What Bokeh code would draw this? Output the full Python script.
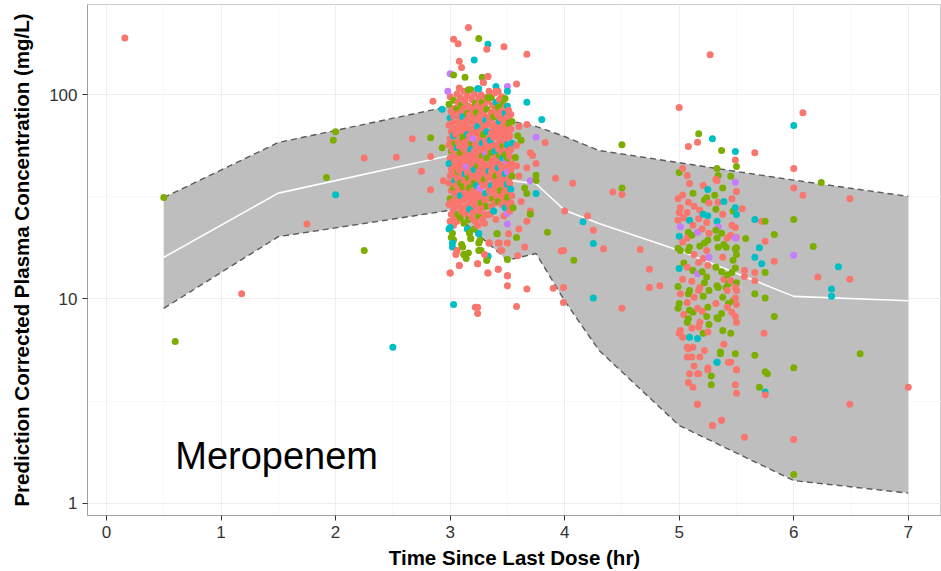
from bokeh.plotting import figure
from bokeh.models import Range1d, FixedTicker, PrintfTickFormatter, Label, ColumnDataSource
from bokeh.embed import file_html
from bokeh.resources import INLINE

# ---------------- data ----------------
x_ticks = [0, 1, 2, 3, 4, 5, 6, 7]
y_ticks = [1, 10, 100]

# VPC band (time, lower / median / upper prediction-corrected concentration)
band_t = [0.5, 1.5, 3.0, 3.5, 3.75, 4.0, 4.3, 5.0, 6.0, 7.0]
band_lo = [9.0, 20.2, 27.2, 15.5, 16.7, 9.8, 5.6, 2.4, 1.29, 1.12]
band_med = [16.0, 33.0, 50.5, 38.2, 36.7, 27.2, 23.4, 17.3, 10.3, 9.8]
band_hi = [31.4, 58.4, 88.0, 75.0, 70.0, 62.5, 53.4, 46.5, 38.2, 31.8]

# observations: (time, conc, group)  r/g/c/p = four subject groups
early_obs = [(0.16, 190, "r"), (0.5, 31.4, "g"), (0.6, 6.2, "g"), (1.18, 10.6, "r"),
             (1.75, 23.3, "r"), (1.92, 39.4, "g"), (2.0, 32.4, "c"), (2.0, 66, "g"),
             (1.98, 60, "g"), (2.25, 49, "r"), (2.53, 49.5, "r"), (2.25, 17.3, "g"),
             (2.5, 5.8, "c"), (2.67, 61, "r"), (2.83, 61.6, "g"), (2.93, 55, "g"),
             (2.83, 49.9, "r"), (2.75, 42.2, "r"), (2.83, 34.3, "r"), (2.94, 38, "r")]

c3_x = [
    [3.00, 2.99, 3.01, 3.00, 2.99, 3.01, 3.00, 2.99, 3.01, 3.00, 2.99, 3.01, 3.00, 2.99, 3.01, 3.00, 2.99, 3.01, 3.00, 2.99, 3.01, 3.02, 3.05, 3.00],
    [3.03, 3.04, 3.03, 3.02, 3.04, 3.03, 3.04, 3.02, 3.03, 3.04, 3.03, 3.02, 3.04, 3.03, 3.04, 3.02, 3.03, 3.04, 3.03, 3.02, 3.03],
    [3.06, 3.07, 3.06, 3.05, 3.07, 3.06, 3.05, 3.07, 3.06, 3.07, 3.05, 3.06, 3.07, 3.06, 3.05, 3.07, 3.06, 3.05, 3.07, 3.06, 3.06, 3.08],
    [3.09, 3.10, 3.09, 3.08, 3.10, 3.09, 3.10, 3.08, 3.09, 3.10, 3.09, 3.08, 3.10, 3.09, 3.10, 3.09, 3.08, 3.10, 3.09, 3.11, 3.12],
    [3.12, 3.13, 3.12, 3.11, 3.13, 3.12, 3.11, 3.13, 3.12, 3.13, 3.11, 3.12, 3.13, 3.12, 3.11, 3.13, 3.12, 3.11, 3.13, 3.12, 3.14],
    [3.15, 3.16, 3.15, 3.14, 3.16, 3.15, 3.14, 3.16, 3.15, 3.16, 3.14, 3.15, 3.16, 3.15, 3.14, 3.16, 3.15, 3.14, 3.16, 3.15, 3.16],
    [3.18, 3.19, 3.18, 3.17, 3.19, 3.18, 3.17, 3.19, 3.18, 3.19, 3.17, 3.18, 3.19, 3.18, 3.17, 3.19, 3.18, 3.17, 3.19, 3.17, 3.18],
    [3.21, 3.22, 3.21, 3.20, 3.22, 3.21, 3.20, 3.22, 3.21, 3.22, 3.20, 3.21, 3.22, 3.21, 3.20, 3.22, 3.21, 3.20, 3.22, 3.21],
    [3.24, 3.25, 3.24, 3.23, 3.25, 3.24, 3.23, 3.25, 3.24, 3.25, 3.23, 3.24, 3.25, 3.24, 3.23, 3.25, 3.24, 3.23, 3.25, 3.24, 3.25, 3.24],
    [3.27, 3.28, 3.27, 3.26, 3.28, 3.27, 3.26, 3.28, 3.27, 3.28, 3.26, 3.27, 3.28, 3.27, 3.26, 3.28, 3.27, 3.26, 3.28, 3.26, 3.27],
    [3.29, 3.31, 3.30, 3.29, 3.31, 3.30, 3.29, 3.31, 3.30, 3.31, 3.29, 3.30, 3.31, 3.30, 3.29, 3.31, 3.30, 3.29, 3.31, 3.30],
    [3.33, 3.34, 3.33, 3.32, 3.34, 3.33, 3.32, 3.34, 3.33, 3.34, 3.32, 3.33, 3.34, 3.33, 3.32, 3.34, 3.33, 3.32, 3.34, 3.34, 3.33, 3.32],
    [3.36, 3.37, 3.36, 3.35, 3.37, 3.36, 3.35, 3.37, 3.36, 3.37, 3.35, 3.36, 3.37, 3.36, 3.35, 3.37, 3.36, 3.35, 3.33],
    [3.39, 3.40, 3.39, 3.38, 3.40, 3.39, 3.38, 3.40, 3.39, 3.40, 3.38, 3.39, 3.40, 3.39, 3.38, 3.40, 3.39, 3.38, 3.40],
    [3.42, 3.43, 3.42, 3.41, 3.43, 3.42, 3.41, 3.43, 3.42, 3.43, 3.41, 3.42, 3.43, 3.42, 3.41, 3.43, 3.42, 3.41, 3.42, 3.42],
    [3.45, 3.46, 3.45, 3.44, 3.46, 3.45, 3.44, 3.46, 3.45, 3.46, 3.44, 3.45, 3.46, 3.45, 3.44, 3.46, 3.45, 3.44],
    [3.48, 3.49, 3.48, 3.47, 3.49, 3.48, 3.47, 3.49, 3.48, 3.49, 3.47, 3.48, 3.49, 3.48, 3.47, 3.49, 3.48, 3.47],
    [3.50, 3.50, 3.50, 3.51, 3.50, 3.51, 3.50, 3.51, 3.50, 3.51, 3.50, 3.51, 3.50, 3.51, 3.50, 3.51, 3.50, 3.51, 3.50, 3.50, 3.51, 3.50, 3.50, 3.50, 3.50],
    [3.53, 3.54, 3.53, 3.52, 3.54, 3.53, 3.52, 3.54, 3.53, 3.54, 3.52, 3.53, 3.54, 3.53, 3.52],
]
c3_y = [
    [98, 90, 83, 77, 71, 66, 61, 57, 53, 49, 46, 43, 40, 37, 34, 31, 29, 26, 24, 22, 20, 18, 16.5, 13.4],
    [94, 86, 79, 73, 68, 63, 58, 54, 50, 47, 44, 41, 38, 35, 33, 30, 27.5, 25, 23, 21, 19.5],
    [101, 92, 85, 80, 74, 69, 64, 59, 55, 51, 48, 45, 42, 39, 36, 33.5, 31, 28.5, 26, 24, 17.3, 14.6],
    [97, 89, 82, 76, 70, 65, 60, 56, 52, 48.5, 45.5, 42.5, 39.5, 37, 34.5, 32, 29.5, 27, 25, 18, 16.5],
    [104, 93, 86, 78, 72, 67, 62, 58, 54, 50, 47, 44, 41, 38, 35.5, 33, 30.5, 28, 26, 23.5, 15.8],
    [99, 88, 81, 75, 69, 64, 59, 55, 51, 47.5, 44.5, 41.5, 39, 36, 33.5, 31, 28.5, 26.5, 24.5, 22, 16.8],
    [106, 95, 87, 80, 74, 68, 63, 58, 54, 50.5, 47, 43.5, 40.5, 37.5, 35, 32.5, 30, 27.5, 25, 21, 19.8],
    [101, 91, 84, 78, 72, 66, 61, 57, 53, 49, 46, 43, 40, 37, 34, 31.5, 29, 26.5, 24, 22],
    [107, 96, 89, 82, 76, 70, 65, 60, 56, 52, 48, 45, 42, 39, 36, 33, 30.5, 28, 25.5, 23, 20.9, 14.9],
    [100, 92, 85, 79, 73, 67, 62, 58, 54, 50, 46.5, 43.5, 40.5, 37.5, 35, 32, 29.5, 27, 24.5, 19.4, 17.3],
    [115, 97, 88, 81, 75, 69, 64, 59, 55, 51, 47.5, 44, 41, 38.5, 36, 33, 30.5, 28, 25.8, 23.5],
    [123, 104, 93, 85, 78, 72, 66, 61, 57, 53, 49, 45.5, 42.5, 39.5, 36.5, 34, 31, 28.5, 26, 18.8, 16.2, 15.5],
    [97, 89, 82, 76, 70, 65, 60, 56, 52, 48, 45, 42, 39, 36, 33.5, 31, 28.5, 26, 13.4],
    [102, 92, 84, 78, 72, 67, 62, 57, 53, 49.5, 46, 43, 40, 37, 34.5, 32, 29.5, 27, 24.5],
    [104, 95, 87, 80, 74, 68, 63, 58.5, 54.5, 50.5, 47, 44, 41, 38, 35.5, 33, 30, 20.9, 18.8, 14],
    [98, 90, 83, 77, 71, 66, 61, 56.5, 52.5, 49, 45.5, 42.5, 39.5, 37, 34, 31.5, 29, 17.3],
    [96, 88, 81, 75, 69, 64, 59.5, 55, 51, 47.5, 44, 41, 38, 35.5, 33, 30.5, 28, 25.5],
    [110, 104, 88, 84, 78, 72, 67, 62, 57, 53, 49, 45.5, 42, 39, 36.5, 34, 31.5, 29, 26.2, 23.3, 20.9, 18.8, 15.6, 13, 11.6],
    [80, 74, 68, 63, 58, 54, 50, 46, 43, 40, 37, 34.5, 32, 29.5, 27],
]
c3_g = ["rgrcrrrrgrcrrrrgrrrcgcrr", "grrrrcgrrrrrcgrrrrrgg", "rrgrrrrrcrrrgrrrrrgrrr",
        "rgrrrrrrgrrrrgrcrrggg", "rrrcrrgrrrrrcrgrrrrgg", "rrgrrcrrrrprgrrrrrgcg",
        "grrrrrrgcrrrrrgrrcrgg", "rgrrrrprrrrcrgrrrrrg", "crrgrcrrrrrgrrcrrrgrcr",
        "rgrrrrrcrgrrrrprgrrgg", "rrrrcrgrrprrrgrcrrrr", "rrrgrrcrrrgrcrrrrgrrcg",
        "grrrrrcrgrrrrcrgrrr", "rcrgrrrrcrrrgrrrrcr", "rrgrcrrrrgrcrrrrggrr",
        "rgrrrrrgrcrrrrgrrr", "grcrrrrrgprcrrrrcr", "pccrrgrrcrgrprcrgrpprrgrr",
        "rgrrcrrrrgrcrrr"]

top3_obs = [(3.16, 214, "r"), (3.25, 189, "g"), (3.33, 177, "c"), (3.03, 187, "r"), (3.07, 178, "r"),
            (3.32, 167, "r"), (3.47, 172, "r"), (3.21, 148, "c"), (3.08, 146, "r"), (3.10, 136, "r"),
            (3.00, 127, "p"), (3.03, 125, "g"), (3.13, 122, "g"), (3.28, 122, "g"), (3.33, 123, "r"),
            (3.29, 115, "r"), (3.40, 110, "c"), (2.98, 104, "p"), (3.08, 108, "r"), (3.16, 106, "g"),
            (3.25, 107, "c"), (3.33, 97, "g"), (3.40, 104, "r"), (2.85, 93, "r"), (2.93, 85, "c")]

low3_obs = [(3.00, 22.4, "c"), (3.02, 18.8, "c"), (3.06, 17.3, "r"), (3.10, 18.5, "g"), (3.12, 16.5, "g"),
            (3.17, 21.1, "g"), (3.18, 19.8, "g"), (3.25, 20.9, "c"), (3.25, 18.8, "g"), (3.25, 17.3, "g"),
            (3.33, 16.2, "c"), (3.32, 15.5, "g"), (3.30, 16.5, "r"), (3.34, 18.8, "r"), (3.41, 20.9, "g"),
            (3.43, 18.8, "r"), (3.45, 17.3, "r"), (3.00, 13.4, "r"), (3.08, 14.6, "r"), (3.24, 14.9, "r"),
            (3.33, 13.4, "r"), (3.42, 14.0, "r"), (3.50, 13.0, "r"), (3.03, 9.4, "c"), (3.22, 9.1, "r"),
            (3.24, 9.1, "r"), (3.24, 8.5, "r")]

mid_obs = [(3.55, 28, "g"), (3.58, 113, "r"), (3.58, 56.6, "r"), (3.59, 63, "g"), (3.57, 49.3, "g"),
           (3.60, 70, "r"), (3.62, 60, "g"), (3.58, 45, "r"), (3.60, 40, "r"), (3.65, 35, "g"),
           (3.62, 30, "r"), (3.70, 27, "r"), (3.60, 22, "r"), (3.58, 20, "g"), (3.65, 18, "r"),
           (3.59, 16.3, "r"), (3.67, 158, "r"), (3.67, 92, "c"), (3.67, 71.5, "r"), (3.67, 44, "r"),
           (3.67, 32.9, "g"), (3.67, 24, "r"), (3.67, 11.2, "r"), (3.58, 9.2, "r"), (3.70, 52, "r"),
           (3.72, 50.5, "r"), (3.70, 38, "p"), (3.70, 26, "g"), (3.75, 62, "p"), (3.75, 46.1, "r"),
           (3.75, 40.4, "g"), (3.75, 38.1, "g"), (3.75, 32.9, "c"), (3.80, 75.7, "c"), (3.83, 58.4, "r"),
           (3.85, 21.2, "g"), (3.90, 11.3, "r"), (3.92, 39, "r"), (3.97, 17.2, "r"), (3.99, 17.3, "r"),
           (3.99, 11.4, "r"), (3.99, 9.6, "r"), (4.00, 27, "r"), (4.07, 36.9, "r"), (4.08, 15.5, "g"),
           (4.16, 23.9, "c"), (4.20, 25.5, "r"), (4.25, 21.7, "r"), (4.25, 18.7, "c"), (4.25, 10.1, "c"),
           (4.34, 17.6, "r"), (4.42, 33.4, "r"), (4.50, 57, "g"), (4.50, 35, "g"), (4.50, 32.5, "r"),
           (4.50, 9.0, "r"), (4.66, 17.5, "r"), (4.74, 14, "r"), (4.74, 11.4, "r"), (4.83, 11.6, "r")]

c5_x = [
    [5.00, 4.99, 5.01, 5.00, 4.99, 5.01, 5.00, 4.99, 5.01, 5.00, 4.99, 5.01, 5.00, 4.99, 5.01, 5.00],
    [5.03, 5.03, 5.04, 5.03, 5.04, 5.03, 5.04, 5.03],
    [5.08, 5.07, 5.09, 5.08, 5.07, 5.09, 5.08, 5.07, 5.09, 5.08, 5.07, 5.09, 5.08, 5.07, 5.09, 5.08, 5.07, 5.09, 5.08, 5.07, 5.09, 5.08],
    [5.12, 5.13, 5.12, 5.11, 5.13, 5.12, 5.11, 5.13, 5.12, 5.11, 5.12, 5.13],
    [5.17, 5.16, 5.18, 5.17, 5.16, 5.18, 5.17, 5.16, 5.18, 5.17, 5.16, 5.18, 5.17, 5.16, 5.18, 5.17, 5.16],
    [5.21, 5.22, 5.21, 5.20, 5.22, 5.21, 5.20, 5.22, 5.21, 5.20, 5.21, 5.22],
    [5.27, 5.29, 5.25, 5.24, 5.26, 5.25, 5.24, 5.26, 5.25, 5.24, 5.26, 5.25, 5.24, 5.26, 5.25, 5.24, 5.26, 5.25, 5.25, 5.29],
    [5.37, 5.33, 5.34, 5.32, 5.33, 5.31, 5.34, 5.32, 5.33, 5.34, 5.32, 5.33, 5.34, 5.32, 5.33, 5.34, 5.32, 5.33, 5.34, 5.36, 5.33, 5.37],
    [5.38, 5.39, 5.38, 5.37, 5.39, 5.38, 5.37, 5.39, 5.38, 5.37, 5.38, 5.39],
    [5.45, 5.42, 5.41, 5.42, 5.43, 5.41, 5.42, 5.43, 5.42, 5.43],
    [5.46, 5.47, 5.46, 5.45, 5.47, 5.46, 5.45, 5.47, 5.46, 5.45],
    [5.49, 5.49, 5.50, 5.49, 5.50, 5.49, 5.50, 5.49, 5.50, 5.49, 5.50, 5.49, 5.50, 5.49, 5.50, 5.49, 5.50, 5.49, 5.50, 5.49, 5.50, 5.49, 5.50, 5.49, 5.50],
]
c5_y = [
    [41.6, 31, 28, 26.5, 24.3, 22.6, 20.3, 17.7, 17.3, 14.1, 11.5, 10.6, 9.5, 9.0, 7.0, 6.8],
    [43.6, 32.3, 25, 19, 15, 12.5, 8.4, 6.5],
    [55.8, 40.3, 36.8, 29.8, 26.5, 24.3, 21.2, 19.9, 17.9, 17.3, 14.3, 11, 10.6, 9.6, 8.8, 8.0, 7.7, 6.5, 5.7, 5.2, 4.3, 3.9],
    [33, 28.5, 23, 20.5, 16.5, 13.8, 12.2, 10.2, 8.6, 7.2, 5.8, 4.7],
    [64.5, 58.5, 27.2, 24.7, 21.2, 18.2, 15.1, 13.3, 11.4, 11, 9.0, 7.7, 7.3, 6.4, 5.2, 4.3, 3.05],
    [36, 30.5, 26, 22, 18.8, 15.8, 13.6, 12, 10.3, 8.7, 6.8, 5.6],
    [157, 61, 34.4, 31.3, 29.5, 25.6, 23.7, 21, 19.4, 17.3, 16.0, 14.6, 12.8, 11, 9.1, 8.2, 7.5, 6.9, 4.5, 2.4],
    [53.4, 43.6, 40.3, 38.5, 38.1, 32.2, 29.8, 27.5, 24, 22.5, 21.7, 19.9, 17.9, 14.3, 11.6, 11.4, 9.5, 8.1, 8.0, 5.5, 4.9, 2.55],
    [35, 30, 26, 21, 18.5, 16, 13.6, 12.5, 10.2, 8.5, 7, 6],
    [39.9, 19.9, 17.9, 13.1, 11.9, 11.4, 11, 9.5, 9.1, 4.9],
    [31, 27, 23, 20.5, 15.5, 13.5, 12.3, 9.8, 8.6, 6.8],
    [52.8, 48, 44.6, 37.3, 33.6, 28, 25.9, 22.4, 20, 19.9, 17.8, 17.6, 16.5, 14.2, 12, 11.4, 11, 10.1, 9.4, 8.2, 7.7, 5.4, 4.5, 3.8, 3.45],
]
c5_g = ["grrrrpcggcgrggrr", "rrrrgrrr", "rrrrrcgrggrggrgggcrrrr", "grrgrgrrgrrr",
        "grrrpgrprrrrrcrrr", "rgcrgrgggrgr", "rccgrcrrgrprgggggrrr",
        "gggrrgrgcpggggggrgggcr", "gcrggrgrgggr", "grggggrgrr", "rgrrggrgrg",
        "crgprccrrpgggggrrrrrrgrrr"]

low5_obs = [(5.00, 86.6, "r"), (5.07, 5.8, "r"), (5.11, 5.2, "r"), (5.16, 4.3, "r"), (5.12, 3.7, "r"),
            (5.16, 3.05, "r"), (5.28, 4.2, "g"), (5.28, 3.8, "g"), (5.33, 4.9, "c"), (5.36, 5.4, "g"),
            (5.45, 4.9, "r"), (5.50, 4.5, "r"), (5.25, 4.6, "r"), (5.29, 2.4, "r"), (5.37, 2.55, "r")]

late_obs = [(5.55, 27.7, "r"), (5.58, 19.8, "g"), (5.57, 13.8, "r"), (5.57, 12.9, "r"), (5.57, 2.1, "r"),
            (5.66, 52, "r"), (5.66, 24.5, "c"), (5.66, 16, "c"), (5.66, 13.5, "r"), (5.66, 12.3, "r"),
            (5.66, 10.6, "g"), (5.66, 5.3, "g"), (5.72, 24, "r"), (5.75, 24, "g"), (5.75, 19.2, "r"),
            (5.70, 17.8, "c"), (5.72, 14.9, "c"), (5.75, 13.5, "g"), (5.75, 10.1, "g"), (5.74, 6.8, "r"),
            (5.75, 4.4, "g"), (5.77, 4.3, "g"), (5.70, 3.7, "g"), (5.75, 3.5, "c"), (5.75, 3.4, "r"),
            (5.83, 20.7, "g"), (5.83, 15.3, "r"), (5.83, 8.2, "g"), (6.00, 70.7, "c"), (6.00, 43.6, "r"),
            (6.00, 35, "r"), (6.00, 24.5, "g"), (6.00, 16.4, "p"), (6.00, 4.6, "g"), (6.00, 2.05, "r"),
            (6.00, 1.38, "g"), (6.08, 81.8, "r"), (6.08, 32.2, "r"), (6.24, 37.2, "g"), (6.17, 18.1, "g"),
            (6.21, 12.8, "r"), (6.33, 11.2, "c"), (6.33, 10.3, "c"), (6.39, 14.4, "c"), (6.49, 12.5, "r"),
            (6.49, 31, "r"), (6.49, 3.05, "r"), (6.58, 5.4, "g"), (7.00, 3.7, "r")]

group_colors = {"r": "#F8766D", "g": "#7CAE00", "c": "#00BFC4", "p": "#C77CFF"}


def flatten_cols(xs, ys, gs):
    out = []
    for cx, cy, cg in zip(xs, ys, gs):
        for a, b, c in zip(cx, cy, cg):
            out.append((a, b, c))
    return out


obs = (early_obs + flatten_cols(c3_x, c3_y, c3_g) + top3_obs + low3_obs + mid_obs
       + flatten_cols(c5_x, c5_y, c5_g) + low5_obs + late_obs)
src = ColumnDataSource(dict(t=[o[0] for o in obs], c=[o[1] for o in obs],
                            col=[group_colors[o[2]] for o in obs]))

# ---------------- figure ----------------
FONT = "Liberation Sans"
p = figure(width=941, height=571, x_range=Range1d(-0.166, 7.29), y_range=Range1d(0.87, 277),
           y_axis_type="log", output_backend="svg", toolbar_location=None,
           min_border_left=87, min_border_right=0, min_border_top=4, min_border_bottom=56)
p.background_fill_color = "white"
p.border_fill_color = "white"
p.outline_line_color = "#CCCCCC"
p.outline_line_width = 1

p.xgrid.ticker = FixedTicker(ticks=x_ticks, minor_ticks=[0.5, 1.5, 2.5, 3.5, 4.5, 5.5, 6.5])
p.ygrid.ticker = FixedTicker(ticks=y_ticks, minor_ticks=[3.162, 31.62])
for g in (p.xgrid, p.ygrid):
    g.grid_line_color = "#EEEEEE"
    g.grid_line_width = 1
    g.minor_grid_line_color = "#F6F6F6"
    g.minor_grid_line_width = 0.8

p.xaxis.ticker = FixedTicker(ticks=x_ticks)
p.yaxis.ticker = FixedTicker(ticks=y_ticks)
p.xaxis.formatter = PrintfTickFormatter(format="%d")
p.yaxis.formatter = PrintfTickFormatter(format="%d")
for ax in (p.xaxis, p.yaxis):
    ax.axis_line_color = "#A0A0A0"
    ax.major_tick_line_color = "#333333"
    ax.major_tick_out = 5
    ax.major_tick_in = 0
    ax.minor_tick_line_color = None
    ax.major_label_text_font = FONT
    ax.major_label_text_font_size = "17px"
    ax.major_label_text_color = "#333333"
    ax.axis_label_text_font = FONT
    ax.axis_label_text_font_size = "20.5px"
    ax.axis_label_text_font_style = "bold"
    ax.axis_label_text_color = "black"
p.xaxis.axis_label = "Time Since Last Dose (hr)"
p.yaxis.axis_label = "Prediction Corrected Plasma Concentration (mg/L)"
p.xaxis.major_label_standoff = 5
p.xaxis.axis_label_standoff = 5
p.yaxis.major_label_standoff = 5
p.yaxis.axis_label_standoff = 13

# band
p.varea(x=band_t, y1=band_lo, y2=band_hi, fill_color="#BEBEBE", fill_alpha=1)
p.line(band_t, band_hi, line_color="#5A5A5A", line_width=1.4, line_dash="6 4")
p.line(band_t, band_lo, line_color="#5A5A5A", line_width=1.4, line_dash="6 4")
p.line(band_t, band_med, line_color="white", line_width=1.6)

# observations
p.scatter(x="t", y="c", source=src, size=7, fill_color="col", line_color=None, fill_alpha=1)

p.add_layout(Label(x=0.6, y=1.71, text="Meropenem", text_font=FONT, text_font_size="38px",
                   text_color="black", text_baseline="alphabetic"))

open("out.html", "w").write(file_html(p, INLINE))
